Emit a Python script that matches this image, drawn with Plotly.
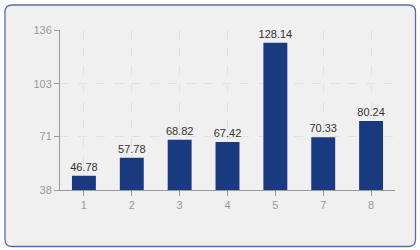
import plotly.graph_objects as go
import base64

categories = ["1", "2", "3", "4", "5", "7", "8"]
values = [46.78, 57.78, 68.82, 67.42, 128.14, 70.33, 80.24]
y_ticks = [38, 71, 103, 136]

bar_color = "#1a3a80"
axis_color = "#9a9a9a"
font_family = "Liberation Sans, Arial, sans-serif"

# faint diagonal hatch for the plot background
svg = (
    '<svg xmlns="http://www.w3.org/2000/svg" width="335" height="160">'
    '<defs><pattern id="h" width="4" height="4" patternUnits="userSpaceOnUse" '
    'patternTransform="rotate(45)"><rect width="4" height="4" fill="#ffffff"/>'
    '<line x1="0" y1="0" x2="0" y2="4" stroke="#efefef" stroke-width="1.3"/></pattern></defs>'
    '<rect width="335" height="160" fill="url(#h)"/></svg>'
)
svg_uri = "data:image/svg+xml;base64," + base64.b64encode(svg.encode()).decode()

fig = go.Figure(
    go.Bar(
        x=categories,
        y=values,
        base=0,
        marker=dict(color=bar_color, line=dict(width=0)),
        text=[f"{v:.2f}" for v in values],
        textposition="outside",
        textfont=dict(family=font_family, size=11, color="#333333"),
        constraintext="none",
        cliponaxis=False,
        width=0.5,
    )
)

# outer rounded panel (pixel coords relative to plot bottom-left)
L, R, T, B, r = -55, 355.5, 185, -56.5, 7
path = (
    f"M {L+r},{T} L {R-r},{T} Q {R},{T} {R},{T-r} L {R},{B+r} Q {R},{B} {R-r},{B} "
    f"L {L+r},{B} Q {L},{B} {L},{B+r} L {L},{T-r} Q {L},{T} {L+r},{T} Z"
)

fig.update_layout(
    width=420,
    height=250,
    margin=dict(l=60, r=25, t=30, b=60),
    paper_bgcolor="#ffffff",
    plot_bgcolor="#ffffff",
    showlegend=False,
    font=dict(family=font_family, size=11, color=axis_color),
    shapes=[
        dict(
            type="path",
            xref="paper", yref="paper",
            xsizemode="pixel", ysizemode="pixel",
            xanchor=0, yanchor=0,
            path=path,
            fillcolor="#f0f0f0",
            line=dict(color="#5b6fa6", width=1.3),
            layer="below",
        )
    ],
    images=[
        dict(
            source=svg_uri,
            xref="paper", yref="paper",
            x=0, y=1, sizex=1, sizey=1,
            xanchor="left", yanchor="top",
            sizing="stretch",
            layer="below",
        )
    ],
    xaxis=dict(
        type="category",
        showline=True,
        linecolor=axis_color,
        linewidth=1,
        ticks="outside",
        ticklen=5,
        tickcolor=axis_color,
        showgrid=True,
        gridcolor="#e2e2e2",
        griddash="dash",
        gridwidth=1,
        tickfont=dict(size=11, color="#999999"),
        zeroline=False,
    ),
    yaxis=dict(
        range=[38, 136],
        tickvals=y_ticks,
        ticktext=[str(t) for t in y_ticks],
        showline=True,
        linecolor=axis_color,
        linewidth=1,
        ticks="outside",
        ticklen=5,
        tickcolor=axis_color,
        showgrid=True,
        gridcolor="#e2e2e2",
        griddash="dash",
        gridwidth=1,
        tickfont=dict(size=11, color="#999999"),
        zeroline=False,
    ),
    bargap=0.5,
)

fig.write_html("out.html")
